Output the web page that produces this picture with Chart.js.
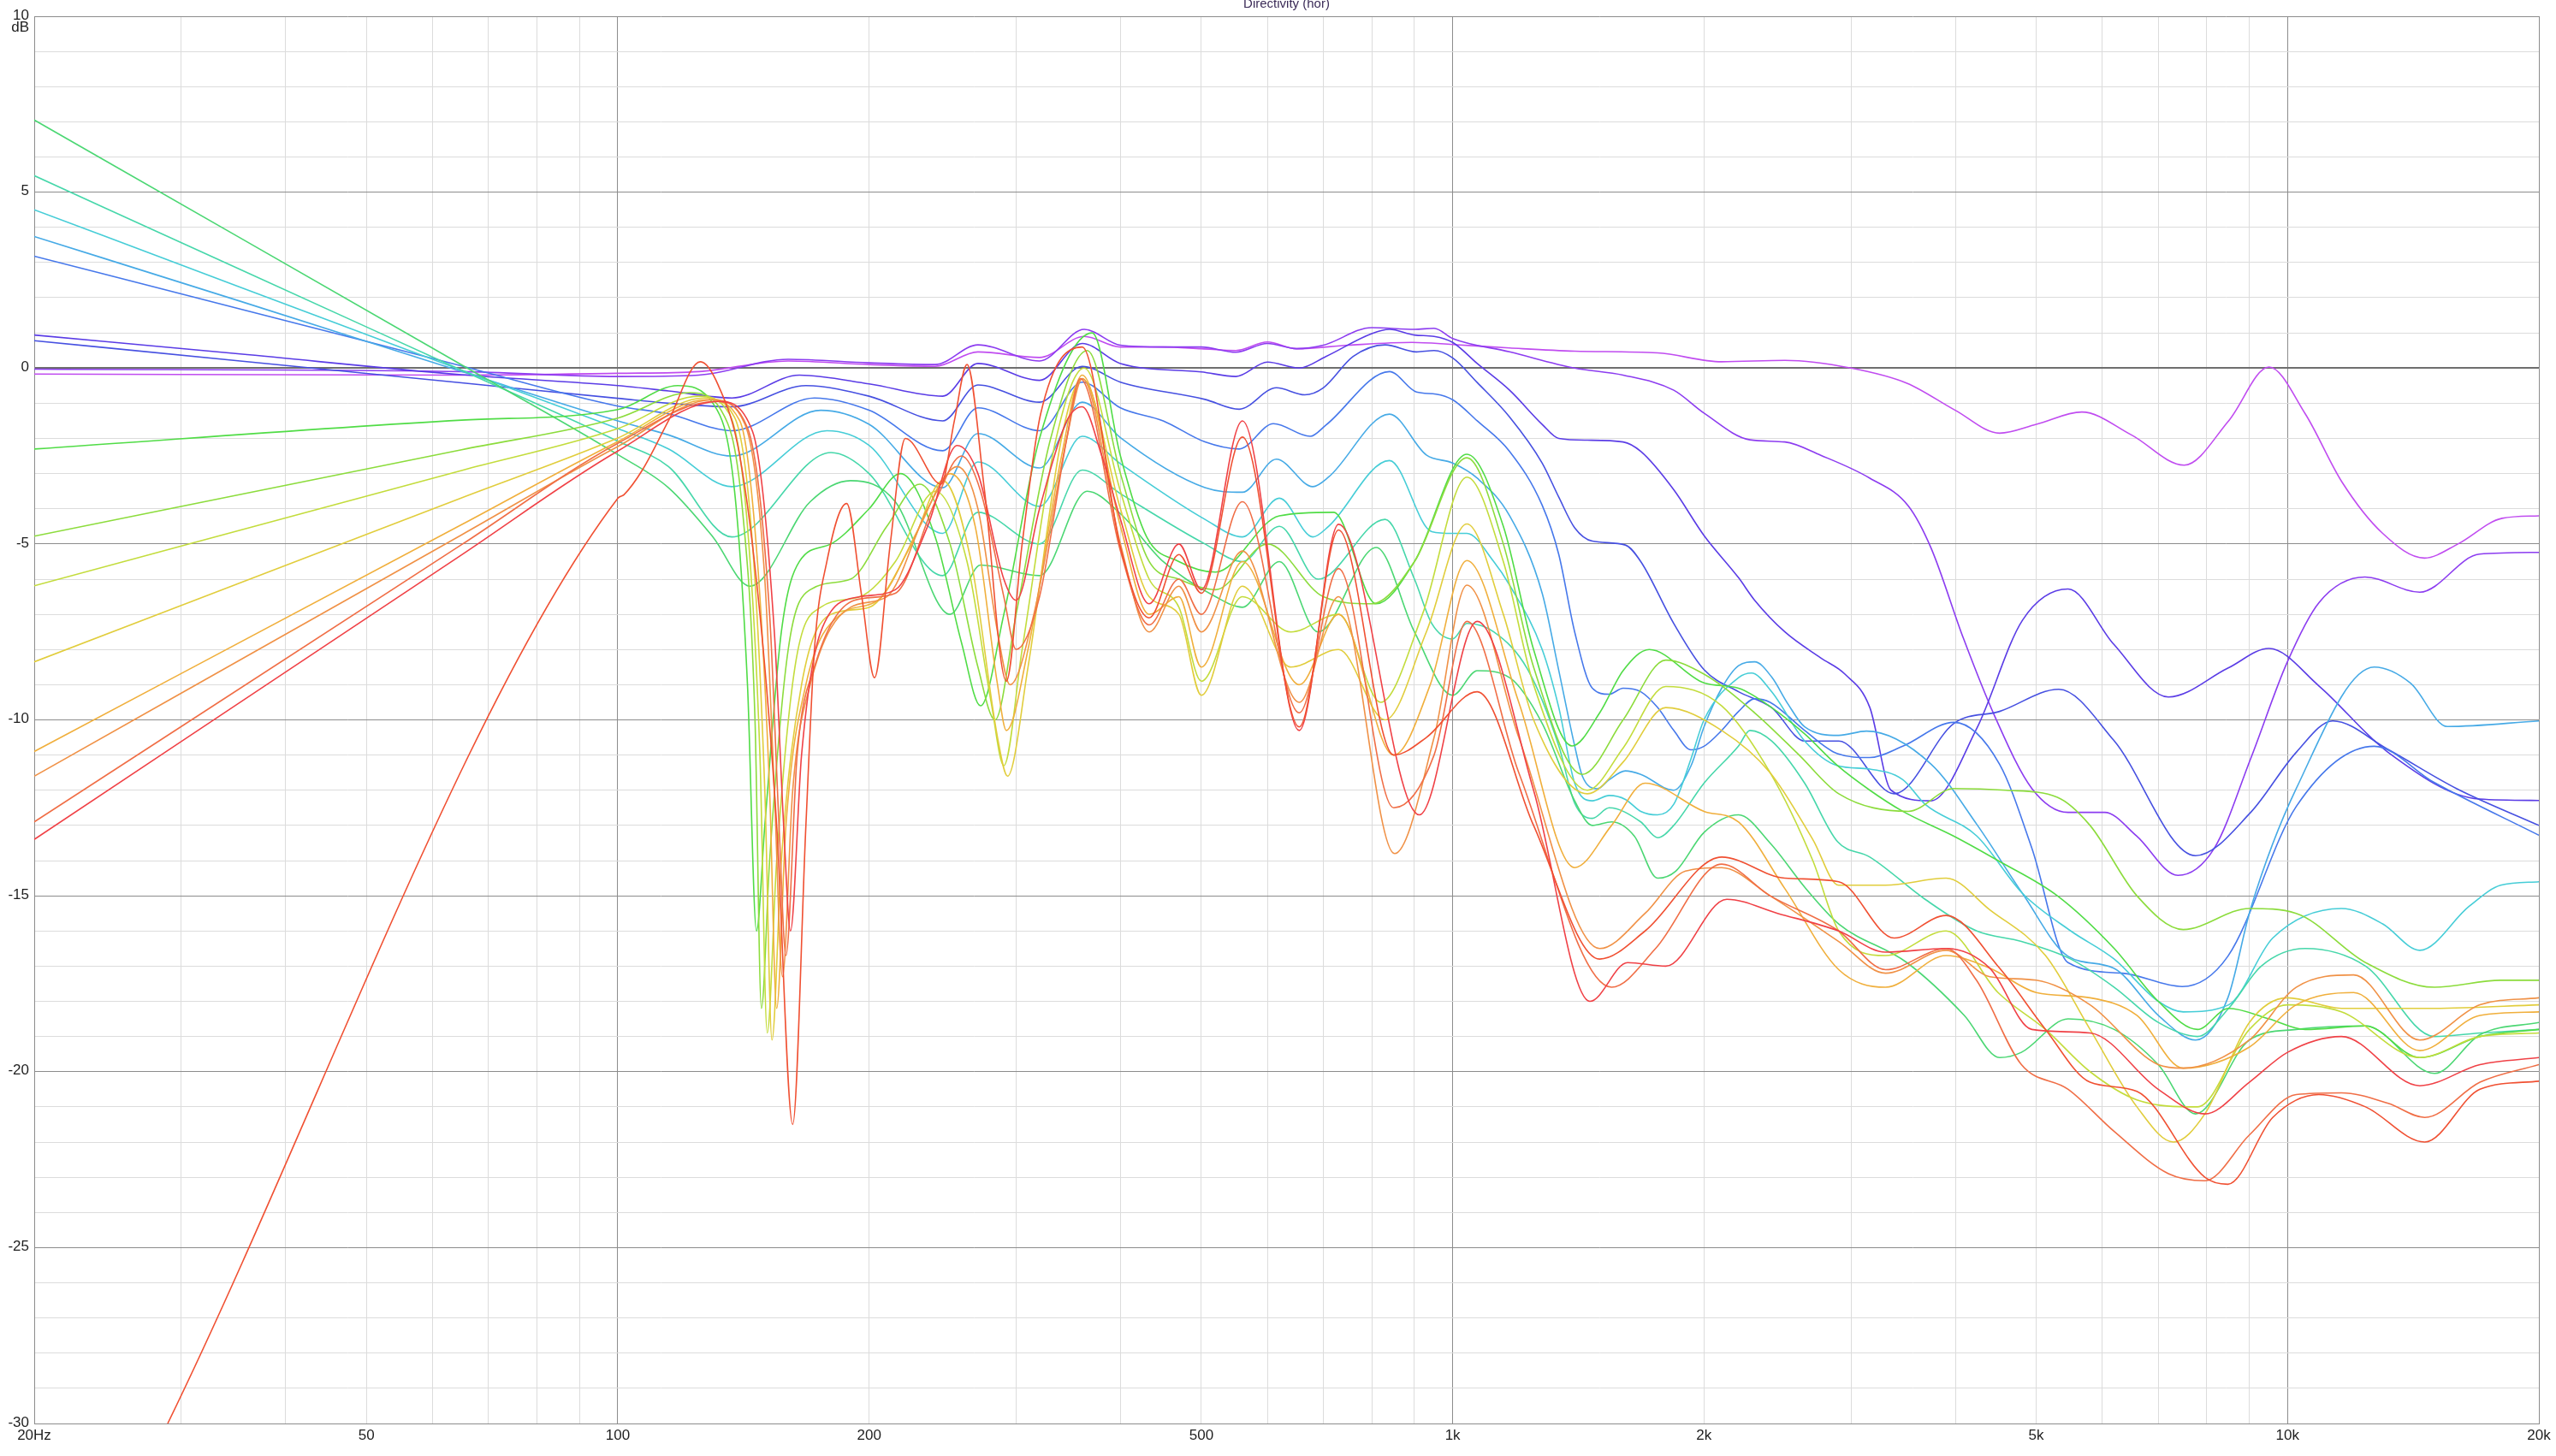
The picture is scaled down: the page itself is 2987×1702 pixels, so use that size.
<!DOCTYPE html>
<html>
<head>
<meta charset="utf-8">
<title>Directivity (hor)</title>
<script src="https://cdn.jsdelivr.net/npm/chart.js@4.4.1/dist/chart.umd.min.js"></script>
<style>
  html, body { margin: 0; padding: 0; background: #fff; }
  #chart { display: block; }
</style>
</head>
<body>
<canvas id="chart" width="2987" height="1702"></canvas>
<script>
// grid + labels
const xGrid = [20, 30, 40, 50, 60, 70, 80, 90, 100, 200, 300, 400, 500, 600, 700, 800, 900,
  1000, 2000, 3000, 4000, 5000, 6000, 7000, 8000, 9000, 10000, 20000];
const xMajor = [20, 100, 1000, 10000, 20000];
const xLabels = [[20, '20Hz'], [50, '50'], [100, '100'], [200, '200'], [500, '500'],
  [1000, '1k'], [2000, '2k'], [5000, '5k'], [10000, '10k'], [20000, '20k']];
const yLabels = [10, 5, 0, -5, -10, -15, -20, -25, -30];
const title = 'Directivity (hor)';

// curves, [Hz, dB], purple -> red
const curve0 = [[20,-0.17],[65,-0.2],[100,-0.15],[125,-0.1],[160,0.2],[200,0.1],[240,0.05],[270,0.46],[320,0.3],[362,0.9],[400,0.6],[450,0.6],[500,0.55],[550,0.5],[600,0.74],[650,0.55],[750,0.65],[894,0.73],[1000,0.67],[1170,0.57],[1400,0.48],[1760,0.43],[2100,0.18],[2500,0.22],[3000,0.0],[3500,-0.43],[4000,-1.2],[4520,-1.85],[5000,-1.6],[5670,-1.25],[6500,-1.9],[7520,-2.76],[8500,-1.5],[9500,0.03],[10500,-1.3],[11620,-3.24],[13000,-4.7],[14590,-5.4],[16000,-5.0],[18070,-4.27],[20000,-4.2]];
const curve1 = [[20,-0.03],[65,-0.1],[100,-0.24],[125,-0.2],[160,0.25],[200,0.15],[240,0.1],[270,0.66],[320,0.2],[362,1.1],[400,0.65],[450,0.6],[500,0.6],[550,0.45],[600,0.7],[650,0.55],[700,0.65],[800,1.15],[900,1.1],[950,1.13],[1000,0.84],[1170,0.46],[1400,0.0],[1600,-0.2],[1840,-0.63],[2000,-1.28],[2270,-2.04],[2500,-2.1],[2760,-2.48],[3160,-3.13],[3514,-3.92],[3742,-5.12],[4090,-7.68],[4460,-9.9],[4940,-11.95],[5459,-12.63],[6040,-12.63],[6593,-13.3],[7390,-14.42],[8170,-13.65],[9033,-11.1],[9990,-8.36],[10910,-6.66],[12380,-5.94],[14400,-6.37],[16970,-5.29],[20000,-5.24]];
const curve2 = [[20,0.94],[35.3,0.4],[65,-0.19],[100,-0.5],[115,-0.65],[137,-0.85],[165,-0.2],[200,-0.45],[245,-0.8],[270,0.13],[320,-0.35],[360,0.7],[400,0.13],[500,-0.11],[550,-0.24],[600,0.17],[655,0.0],[705,0.33],[800,0.98],[840,1.1],[900,0.94],[950,0.9],[1000,0.73],[1070,0.13],[1170,-0.63],[1280,-1.6],[1340,-2.0],[1450,-2.05],[1600,-2.1],[1680,-2.37],[1840,-3.46],[2000,-4.76],[2200,-5.96],[2300,-6.6],[2500,-7.5],[2760,-8.24],[2950,-8.7],[3160,-9.65],[3350,-12.0],[3740,-12.3],[4244,-10.24],[4813,-7.17],[5459,-6.28],[6191,-7.85],[7200,-9.35],[8482,-8.53],[9500,-7.97],[10910,-9.04],[13190,-10.92],[16970,-12.25],[20000,-12.29]];
const curve3 = [[20,0.78],[35.3,0.2],[65,-0.42],[100,-0.86],[115,-1.0],[137,-1.1],[168,-0.5],[200,-0.8],[245,-1.5],[270,-0.48],[320,-0.97],[360,0.05],[400,-0.4],[505,-0.89],[555,-1.17],[615,-0.56],[665,-0.76],[700,-0.56],[760,0.33],[830,0.66],[905,0.46],[950,0.5],[1000,0.29],[1070,-0.41],[1170,-1.39],[1280,-2.7],[1340,-3.67],[1400,-4.54],[1470,-4.92],[1610,-5.03],[1680,-5.5],[1840,-7.26],[2000,-8.57],[2200,-9.2],[2410,-9.65],[2640,-10.6],[2900,-10.6],[3380,-12.1],[3985,-10.1],[4519,-9.76],[5320,-9.13],[6191,-10.58],[7760,-13.86],[9033,-12.63],[10244,-10.92],[11330,-10.03],[13190,-10.84],[15930,-11.95],[20000,-13.0]];
const curve4 = [[20,3.18],[35.3,1.68],[65,0.06],[100,-1.08],[115,-1.3],[137,-1.78],[172,-0.85],[200,-1.2],[245,-2.35],[270,-1.13],[320,-1.78],[360,-0.4],[400,-1.13],[450,-1.5],[505,-2.1],[555,-2.3],[610,-1.58],[675,-1.94],[705,-1.62],[840,-0.1],[905,-0.68],[955,-0.74],[1000,-0.9],[1070,-1.5],[1170,-2.37],[1280,-3.9],[1340,-5.3],[1400,-7.5],[1470,-9.1],[1540,-9.27],[1600,-9.1],[1680,-9.2],[1760,-9.65],[1840,-10.3],[1930,-10.85],[2000,-10.75],[2100,-10.3],[2200,-9.76],[2300,-9.4],[2400,-9.5],[2640,-10.3],[2890,-10.96],[3160,-11.07],[3460,-10.75],[3985,-10.07],[4519,-11.26],[4940,-13.65],[5459,-16.9],[6340,-17.2],[7478,-17.58],[8482,-16.72],[10244,-12.46],[12700,-10.75],[14960,-11.77],[20000,-13.28]];
const curve5 = [[20,3.74],[35.3,1.9],[65,-0.1],[100,-1.5],[115,-1.9],[137,-2.5],[175,-1.2],[200,-1.6],[245,-3.4],[270,-1.86],[320,-2.84],[360,-0.97],[400,-1.98],[505,-3.4],[560,-3.53],[615,-2.59],[680,-3.37],[710,-3.1],[840,-1.31],[930,-2.47],[1000,-2.7],[1070,-3.13],[1170,-4.2],[1280,-6.4],[1340,-8.6],[1400,-10.74],[1430,-11.6],[1490,-11.96],[1540,-11.7],[1610,-11.45],[1680,-11.55],[1840,-12.0],[1930,-11.3],[2000,-10.2],[2100,-9.1],[2200,-8.46],[2300,-8.35],[2410,-8.78],[2520,-9.54],[2640,-10.2],[2900,-10.44],[3130,-10.32],[3742,-11.26],[4244,-12.97],[4813,-14.93],[5459,-16.72],[6191,-17.06],[7022,-18.43],[7760,-19.1],[8482,-17.9],[9033,-15.36],[10244,-11.95],[12700,-8.5],[14040,-8.96],[15540,-10.19],[20000,-10.03]];
const curve6 = [[20,4.5],[35.3,2.3],[65,-0.06],[100,-1.72],[115,-2.3],[137,-3.37],[178,-1.78],[200,-2.2],[245,-4.7],[270,-2.67],[320,-3.93],[360,-1.94],[400,-2.72],[505,-4.3],[560,-4.8],[620,-3.7],[680,-4.8],[710,-4.5],[840,-2.63],[944,-4.65],[1000,-4.7],[1040,-4.7],[1120,-5.5],[1170,-6.17],[1280,-8.0],[1340,-9.65],[1400,-11.8],[1470,-12.3],[1540,-12.15],[1610,-12.26],[1680,-12.6],[1760,-12.7],[1840,-12.4],[1930,-11.1],[2000,-10.0],[2200,-8.8],[2280,-8.67],[2410,-9.2],[2640,-10.6],[2890,-11.3],[3160,-11.4],[3460,-11.7],[3680,-12.4],[4244,-13.3],[4813,-14.93],[5500,-16.0],[6200,-16.8],[7000,-18.0],[7500,-18.3],[8500,-18.1],[9600,-16.2],[11600,-15.36],[13000,-15.8],[14400,-16.55],[16500,-15.3],[18000,-14.7],[20000,-14.6]];
const curve7 = [[20,5.47],[35.3,2.8],[65,-0.06],[100,-2.08],[115,-2.8],[137,-4.8],[180,-2.4],[200,-3.0],[245,-5.9],[270,-4.1],[320,-5.0],[360,-2.9],[400,-3.57],[505,-5.0],[560,-5.5],[620,-4.5],[690,-6.0],[830,-4.3],[900,-6.0],[944,-7.26],[1000,-7.7],[1040,-7.26],[1120,-7.5],[1230,-8.57],[1340,-10.74],[1400,-12.37],[1470,-12.8],[1540,-12.5],[1680,-12.9],[1760,-13.35],[1840,-13.0],[2000,-11.8],[2200,-10.74],[2270,-10.3],[2410,-10.6],[2640,-11.8],[2890,-13.46],[3160,-13.9],[3680,-15.1],[4244,-16.0],[4800,-16.3],[5500,-16.8],[6200,-17.6],[7000,-18.6],[7800,-19.0],[8500,-18.2],[9300,-17.0],[10500,-16.5],[12400,-17.0],[15000,-19.0],[17000,-18.9],[20000,-18.8]];
const curve8 = [[20,7.05],[35.3,3.7],[65,0.09],[100,-2.46],[115,-3.4],[130,-4.8],[144,-6.2],[170,-3.8],[190,-3.2],[215,-3.8],[250,-7.0],[272,-5.6],[320,-5.9],[365,-3.5],[400,-4.14],[450,-5.5],[520,-6.5],[560,-6.8],[620,-5.5],[690,-7.5],[810,-5.1],[900,-7.5],[1000,-9.3],[1070,-8.6],[1170,-8.8],[1280,-10.1],[1400,-12.3],[1470,-13.0],[1550,-12.9],[1650,-13.3],[1760,-14.5],[1850,-14.3],[2000,-13.2],[2200,-12.7],[2400,-13.5],[2650,-14.8],[2900,-15.8],[3500,-16.9],[4100,-18.4],[4520,-19.6],[4800,-19.45],[5460,-18.5],[6200,-18.8],[7000,-19.8],[7760,-21.2],[9000,-19.1],[10240,-18.8],[12400,-18.7],[15000,-20.05],[17000,-18.95],[20000,-18.6]];
const curve9 = [[20,-2.3],[65,-1.48],[100,-1.18],[118,-0.5],[130,-1.0],[138,-3.5],[143,-9.0],[146.6,-16.0],[150,-13.0],[157,-7.5],[165,-5.5],[180,-5.0],[200,-4.0],[218,-3.0],[240,-4.8],[258,-7.8],[272,-9.6],[290,-7.0],[320,-2.0],[370,1.0],[400,-2.5],[430,-4.8],[470,-5.5],[520,-5.8],[620,-4.2],[720,-4.1],[810,-6.7],[900,-5.5],[1040,-2.45],[1150,-4.5],[1250,-8.0],[1390,-10.74],[1500,-9.8],[1600,-8.6],[1720,-8.0],[2000,-8.95],[2200,-9.1],[2410,-9.65],[2640,-10.4],[2890,-11.3],[3160,-12.0],[3460,-12.6],[3980,-13.3],[4500,-14.0],[5300,-15.0],[6200,-16.5],[7000,-18.0],[7800,-18.8],[8500,-18.2],[9500,-18.5],[10500,-18.8],[12400,-18.7],[14400,-19.6],[17000,-19.0],[20000,-18.8]];
const curve10 = [[20,-4.78],[65,-2.32],[100,-1.42],[122,-0.7],[133,-1.2],[141,-4.0],[146,-10.0],[148.6,-18.2],[152,-14.0],[160,-8.0],[170,-6.3],[190,-6.0],[210,-4.5],[230,-3.3],[250,-5.0],[270,-8.5],[283,-10.0],[300,-7.0],[330,-2.0],[365,0.5],[400,-3.0],[433,-5.5],[470,-6.0],[520,-6.3],[600,-5.0],[700,-6.5],[800,-6.7],[900,-5.5],[1040,-2.55],[1150,-5.0],[1250,-8.5],[1430,-11.55],[1600,-10.0],[1800,-8.3],[2000,-8.7],[2300,-9.8],[2600,-11.0],[2900,-12.1],[3514,-12.6],[3985,-11.95],[4600,-12.0],[5300,-12.2],[5800,-13.0],[6600,-15.0],[7500,-15.96],[9000,-15.36],[10240,-15.5],[12400,-16.9],[15000,-17.6],[18000,-17.4],[20000,-17.4]];
const curve11 = [[20,-6.19],[65,-2.91],[100,-1.72],[125,-0.8],[136,-1.3],[143,-4.5],[148,-11.0],[151,-18.9],[155,-14.0],[163,-8.5],[175,-6.8],[195,-6.5],[215,-5.5],[240,-3.5],[262,-5.5],[280,-9.5],[290,-11.3],[305,-8.0],[335,-2.0],[362,0.0],[400,-3.5],[433,-6.0],[470,-6.8],[500,-8.9],[560,-6.5],[640,-7.5],[730,-7.0],[820,-9.5],[920,-7.0],[1040,-3.1],[1150,-5.5],[1250,-9.0],[1450,-12.0],[1600,-10.8],[1800,-9.05],[2100,-9.6],[2400,-11.5],[2700,-14.0],[2900,-16.0],[3300,-16.7],[3900,-16.0],[4500,-17.75],[5130,-18.8],[5800,-20.0],[6600,-20.8],[7800,-21.0],[9000,-18.8],[10000,-18.1],[11600,-18.3],[14400,-19.6],[17000,-19.0],[20000,-18.9]];
const curve12 = [[20,-8.35],[65,-3.69],[100,-1.99],[127,-0.85],[138,-1.4],[145,-5.0],[150,-12.0],[153,-19.1],[157,-14.0],[166,-9.0],[180,-7.0],[200,-6.8],[225,-5.0],[245,-3.2],[265,-5.5],[285,-10.5],[293,-11.6],[310,-8.5],[340,-2.0],[360,-0.3],[400,-4.0],[433,-6.5],[470,-7.0],[500,-9.3],[560,-6.2],[640,-8.5],[730,-8.0],[830,-10.0],[930,-7.5],[1040,-4.43],[1150,-7.0],[1250,-10.0],[1450,-12.1],[1600,-11.2],[1800,-9.65],[2100,-10.3],[2400,-11.5],[2700,-13.4],[2900,-14.7],[3300,-14.7],[3900,-14.5],[4400,-15.4],[5130,-16.7],[5800,-18.8],[6600,-21.0],[7300,-22.0],[7960,-21.2],[9000,-18.6],[10000,-17.9],[11600,-18.2],[15000,-18.2],[20000,-18.1]];
const curve13 = [[20,-10.9],[65,-4.45],[100,-2.09],[128,-0.9],[140,-1.5],[147,-5.5],[152,-12.0],[155,-18.2],[159,-13.0],[168,-9.0],[185,-7.0],[205,-6.6],[230,-4.5],[250,-3.0],[268,-4.5],[285,-9.0],[292,-10.3],[310,-8.0],[340,-2.5],[360,-0.2],[400,-4.5],[433,-7.0],[470,-6.5],[500,-8.5],[560,-5.5],[655,-9.0],[730,-7.0],[850,-11.0],[940,-9.0],[1040,-5.47],[1200,-9.5],[1400,-14.2],[1550,-13.0],[1700,-11.8],[2000,-12.6],[2200,-12.9],[2500,-14.8],[2900,-17.1],[3300,-17.6],[3900,-16.7],[4400,-17.06],[5000,-17.75],[5800,-17.9],[6600,-18.4],[7500,-19.9],[9000,-19.3],[10240,-18.1],[12000,-17.75],[14400,-19.4],[17000,-18.4],[20000,-18.3]];
const curve14 = [[20,-11.6],[65,-4.74],[100,-2.23],[130,-0.9],[142,-1.6],[150,-6.0],[154,-12.0],[157.5,-17.3],[162,-12.0],[170,-9.0],[190,-6.8],[210,-6.5],[235,-4.0],[255,-2.8],[270,-4.0],[285,-7.5],[295,-9.0],[315,-7.0],[345,-2.0],[360,-0.3],[400,-5.0],[433,-7.5],[470,-6.2],[500,-7.5],[560,-5.2],[655,-9.5],[730,-6.5],[852,-13.8],[950,-10.5],[1040,-6.17],[1200,-10.5],[1500,-16.5],[1700,-15.5],[1900,-14.3],[2100,-14.2],[2400,-15.0],[2700,-15.8],[2900,-16.3],[3300,-17.2],[3900,-16.55],[4400,-17.3],[5000,-17.4],[5800,-18.1],[7000,-19.8],[7500,-19.9],[9000,-19.1],[10240,-17.6],[12000,-17.25],[14400,-19.1],[17000,-18.1],[20000,-17.9]];
const curve15 = [[20,-12.9],[65,-5.02],[100,-2.14],[131,-0.95],[143,-1.7],[152,-7.0],[156,-13.0],[159,-16.7],[164,-11.0],[172,-8.5],[192,-6.6],[215,-6.4],[240,-3.8],[258,-2.5],[272,-3.5],[290,-6.5],[300,-8.0],[320,-6.5],[345,-2.0],[358,-0.3],[400,-5.2],[433,-7.3],[470,-6.0],[500,-7.0],[560,-3.8],[655,-9.8],[730,-5.7],[850,-12.5],[950,-11.0],[1040,-7.2],[1200,-11.5],[1550,-17.6],[1750,-16.5],[2100,-14.1],[2400,-15.0],[2900,-16.0],[3300,-17.1],[3900,-16.5],[4240,-17.4],[4800,-19.8],[5460,-20.5],[6200,-21.7],[7200,-22.9],[7960,-23.1],[9000,-21.8],[10240,-20.65],[11600,-20.6],[13200,-20.9],[14600,-21.3],[17000,-20.3],[20000,-19.8]];
const curve16 = [[20,-13.4],[65,-5.31],[100,-2.36],[132,-0.95],[145,-1.8],[154,-7.5],[158,-13.0],[161,-16.0],[166,-11.0],[175,-7.5],[195,-6.5],[215,-6.3],[235,-4.5],[255,-2.2],[270,-3.0],[290,-6.0],[300,-6.6],[320,-4.0],[345,-1.5],[360,-1.1],[380,-2.5],[400,-4.3],[433,-6.7],[470,-5.0],[500,-6.3],[560,-1.5],[655,-10.3],[730,-4.44],[912,-12.7],[1070,-7.2],[1250,-12.0],[1460,-18.0],[1620,-16.9],[1800,-17.0],[2130,-15.1],[2450,-15.5],[2900,-16.0],[3300,-16.6],[3900,-16.5],[4400,-17.06],[4940,-18.8],[5800,-18.9],[7000,-20.5],[7960,-21.2],[9000,-20.3],[10000,-19.45],[11600,-19.0],[14400,-20.4],[17000,-19.8],[20000,-19.6]];
const curve17 = [[28.9,-30],[100,-3.7],[101.7,-3.6],[107,-2.9],[115,-1.5],[125.6,0.18],[132,-0.5],[140,-2.5],[148,-7.0],[155,-13.0],[162,-21.5],[168,-13.0],[172,-8.0],[178,-5.5],[188,-3.85],[196,-6.5],[203,-8.8],[212,-5.0],[221,-2.0],[244,-3.3],[253,-1.5],[262,0.1],[275,-3.5],[292,-8.9],[305,-5.0],[321,-1.3],[360,0.6],[400,-5.1],[433,-7.1],[470,-5.3],[500,-6.4],[560,-1.96],[655,-10.2],[730,-4.6],[850,-11.0],[930,-10.5],[1070,-9.2],[1250,-13.0],[1500,-16.8],[1700,-16.0],[2100,-13.9],[2500,-14.5],[2900,-14.6],[3380,-16.2],[3900,-15.56],[4520,-17.06],[5130,-18.8],[5800,-20.3],[6600,-20.56],[7960,-23.0],[8480,-23.2],[9600,-21.3],[10900,-20.65],[12400,-21.0],[14600,-22.0],[17000,-20.5],[20000,-20.27]];

const curves = [curve0, curve1, curve2, curve3, curve4, curve5, curve6, curve7, curve8,
  curve9, curve10, curve11, curve12, curve13, curve14, curve15, curve16, curve17];
const curveColors = ['#c04cf0', '#8c3cf0', '#5a3ce6', '#4650e1', '#4678eb', '#46aae6',
  '#46cdd7', '#46d7aa', '#4bd773', '#50dc46', '#8cdc3c', '#c3dc3c', '#e1cd3c', '#f0af3c',
  '#f09146', '#f06e46', '#f04146', '#f05032'];

const MINOR = '#dcdcdc';
const MAJOR = '#8c8c8c';

const axisLabels = {
  id: 'axisLabels',
  afterDraw(chart) {
    const { ctx, chartArea: a, scales: { x, y } } = chart;
    ctx.save();
    ctx.fillStyle = '#1e1e1e';
    ctx.font = '17px "Liberation Sans", Arial, sans-serif';
    ctx.textAlign = 'right';
    ctx.textBaseline = 'middle';
    yLabels.forEach(v => ctx.fillText(String(v), a.left - 6, y.getPixelForValue(v) - 1));
    ctx.fillText('dB', a.left - 6, y.getPixelForValue(10) + 13);
    ctx.textAlign = 'center';
    xLabels.forEach(([f, t]) => ctx.fillText(t, x.getPixelForValue(f), a.bottom + 14));
    ctx.font = '15px "Liberation Sans", Arial, sans-serif';
    ctx.fillStyle = '#3c2c58';
    ctx.textBaseline = 'alphabetic';
    ctx.fillText(title, (a.left + a.right) / 2, 9);
    ctx.restore();
  }
};

new Chart(document.getElementById('chart'), {
  type: 'line',
  data: {
    datasets: curves.map((c, i) => ({
      data: c.map(([f, v]) => ({ x: f, y: v })),
      borderColor: curveColors[i],
      borderWidth: 1.6,
      pointRadius: 0,
      fill: false,
      cubicInterpolationMode: 'monotone',
      order: curves.length - i
    }))
  },
  options: {
    responsive: false,
    animation: false,
    events: [],
    layout: { padding: { left: 40, top: 19, right: 20, bottom: 38 } },
    plugins: { legend: { display: false }, tooltip: { enabled: false }, title: { display: false } },
    scales: {
      x: {
        type: 'logarithmic',
        min: 20,
        max: 20000,
        afterBuildTicks: s => { s.ticks = xGrid.map(v => ({ value: v })); },
        ticks: { display: false },
        grid: {
          drawTicks: false,
          color: c => xMajor.includes(c.tick.value) ? MAJOR : MINOR,
          lineWidth: 1
        },
        border: { display: true, color: MAJOR, width: 1 }
      },
      y: {
        type: 'linear',
        min: -30,
        max: 10,
        ticks: { display: false, stepSize: 1 },
        grid: {
          drawTicks: false,
          color: c => c.tick.value === 0 ? '#6e6e6e' : (c.tick.value % 5 === 0 ? MAJOR : MINOR),
          lineWidth: c => c.tick.value === 0 ? 2 : 1
        },
        border: { display: true, color: MAJOR, width: 1 }
      }
    }
  },
  plugins: [axisLabels]
});
</script>
</body>
</html>
